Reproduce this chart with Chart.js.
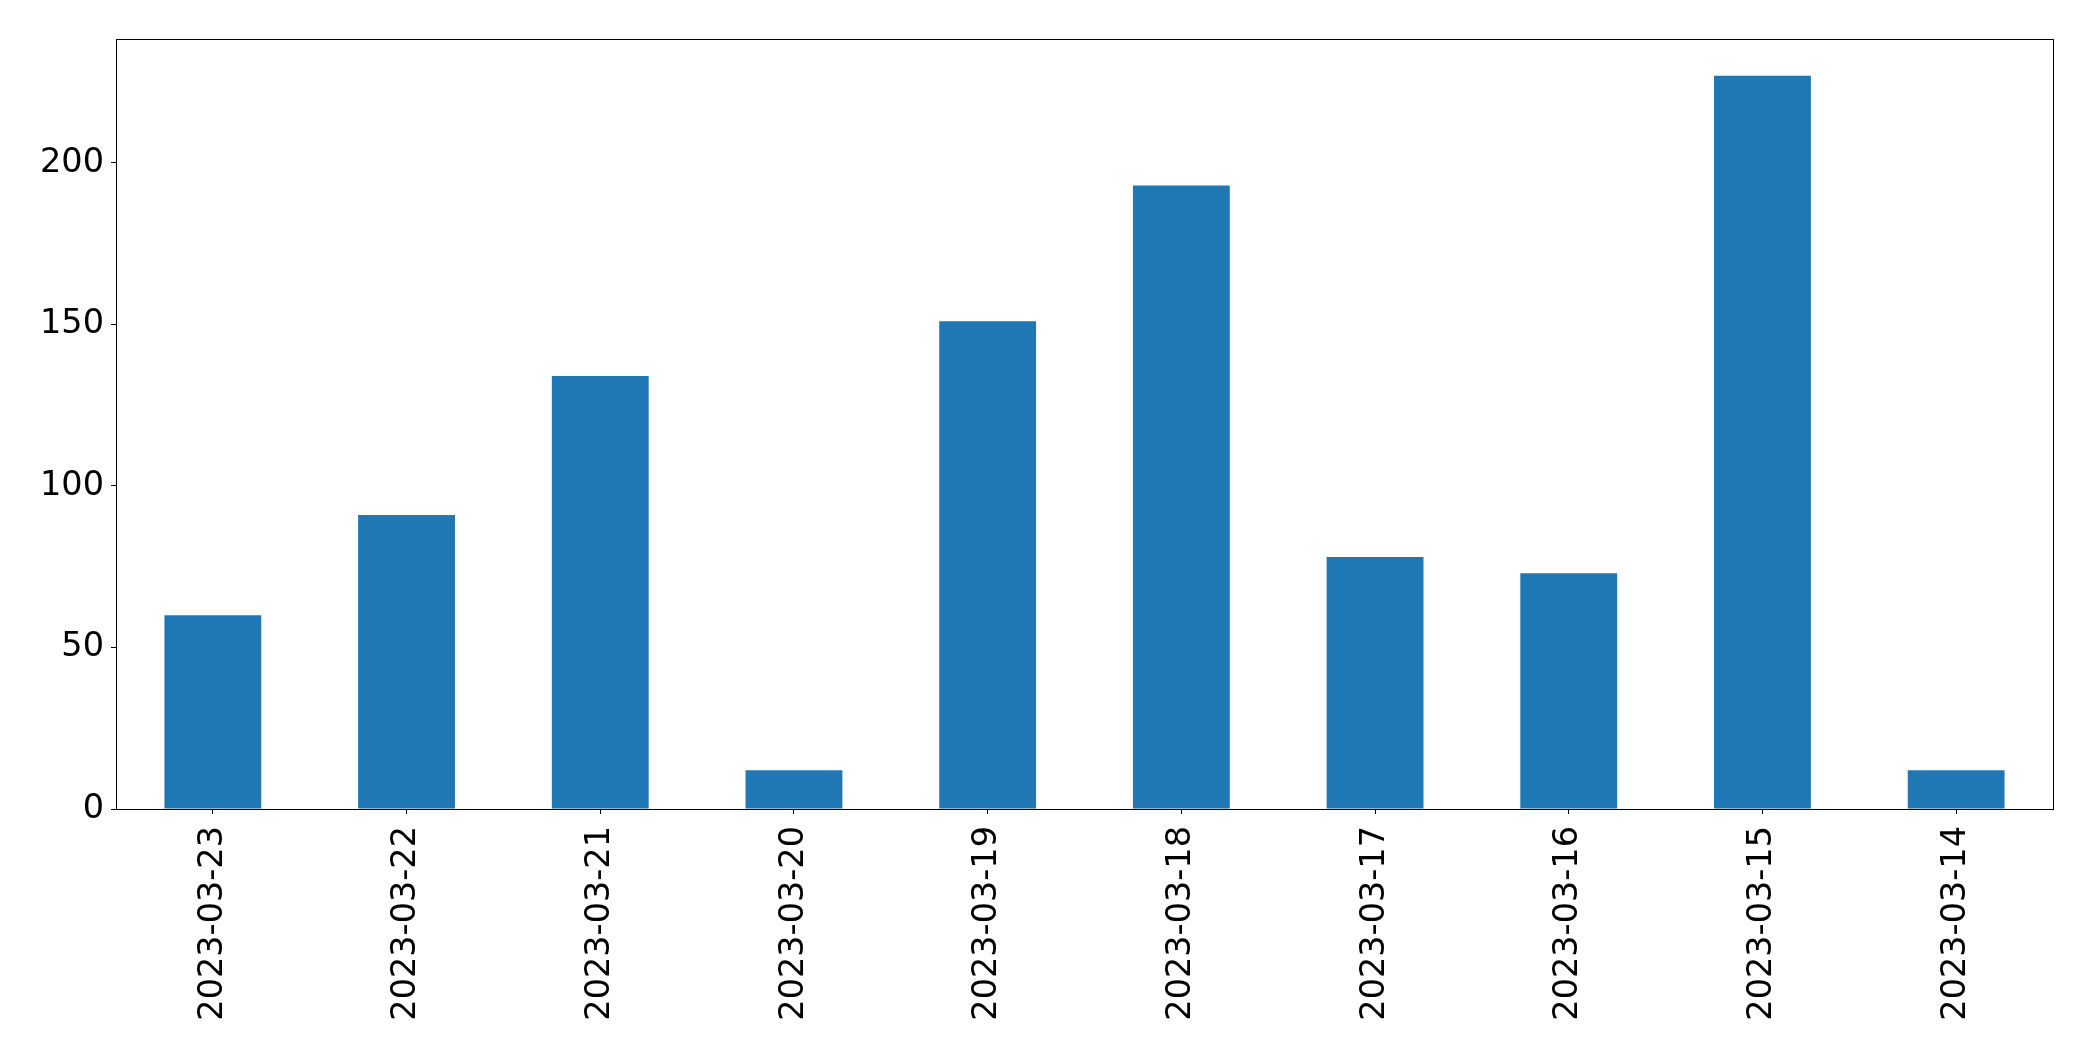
<!DOCTYPE html>
<html>
<head>
<meta charset="utf-8">
<script src="https://cdn.jsdelivr.net/npm/chart.js@4/dist/chart.umd.min.js"></script>
<style>
  html, body { margin: 0; padding: 0; background: #fff; }
  #myChart { display: block; }
</style>
</head>
<body>
<canvas id="myChart" width="2093" height="1061"></canvas>
<script>
var fechas = ["2023-03-23", "2023-03-22", "2023-03-21", "2023-03-20", "2023-03-19",
              "2023-03-18", "2023-03-17", "2023-03-16", "2023-03-15", "2023-03-14"];
var valores = [60, 91, 134, 12, 151, 193, 78, 73, 227, 12];
var yTicks = [0, 50, 100, 150, 200];

var fuente = { family: "'DejaVu Sans', sans-serif", size: 33.5 };

// marco completo alrededor del area del grafico (como matplotlib)
var marco = {
  id: 'marco',
  afterDatasetsDraw: function(chart) {
    var a = chart.chartArea;
    var c = chart.ctx;
    c.save();
    c.strokeStyle = '#000';
    c.lineWidth = 1;
    c.strokeRect(Math.round(a.left) + 0.5, Math.round(a.top) + 0.5,
                 Math.round(a.right - a.left), Math.round(a.bottom - a.top));
    c.restore();
  }
};

var ctx = document.getElementById('myChart');
var myChart = new Chart(ctx, {
  type: 'bar',
  data: {
    labels: fechas,
    datasets: [{
      data: valores,
      backgroundColor: '#1f77b4',
      borderWidth: 0,
      barPercentage: 0.5,
      categoryPercentage: 1.0
    }]
  },
  options: {
    responsive: false,
    animation: false,
    layout: { padding: { top: 39, right: 40, left: 0, bottom: 0 } },
    plugins: {
      legend: { display: false },
      tooltip: { enabled: false }
    },
    scales: {
      x: {
        grid: { display: true, offset: false, drawOnChartArea: false, tickLength: 5, tickColor: '#000' },
        border: { display: true, color: '#000', width: 1 },
        ticks: {
          color: '#000', font: fuente, autoSkip: false,
          minRotation: 90, maxRotation: 90, padding: 12
        },
        afterFit: function(scale) { scale.height = 252; }
      },
      y: {
        min: 0,
        max: 238.35,
        grid: { display: true, drawOnChartArea: false, tickLength: 5, tickColor: '#000' },
        border: { display: true, color: '#000', width: 1 },
        afterBuildTicks: function(scale) {
          scale.ticks = yTicks.map(function(v) { return { value: v }; });
        },
        ticks: { color: '#000', font: fuente, padding: 7 },
        afterFit: function(scale) { scale.width = 116; }
      }
    }
  },
  plugins: [marco]
});
</script>
</body>
</html>
